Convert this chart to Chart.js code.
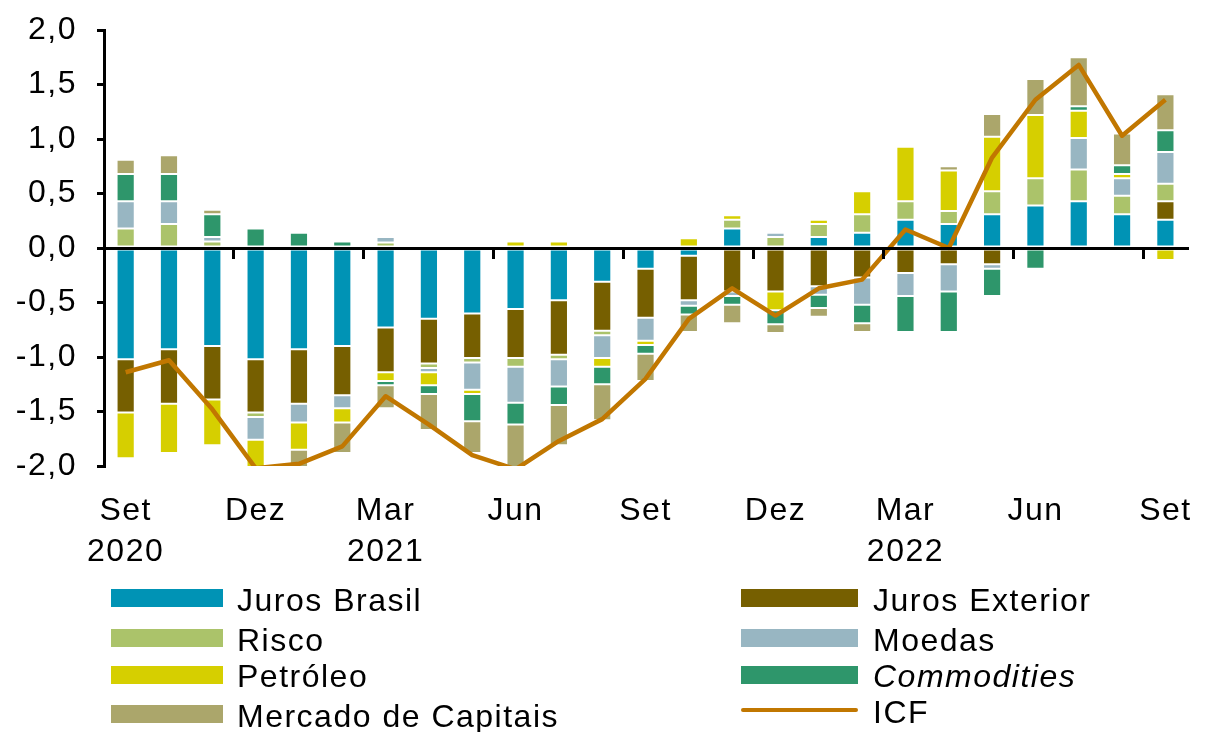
<!DOCTYPE html>
<html>
<head>
<meta charset="utf-8">
<script src="https://cdn.jsdelivr.net/npm/chart.js@4.4.1/dist/chart.umd.min.js"></script>
<style>
    body { margin: 0; background: #ffffff; }
    #wrap { position: relative; width: 1217px; height: 732px; }
    #legend {
        position: absolute; left: 0; top: 0; width: 100%; height: 100%;
        font: 32px "Liberation Sans", Arial, sans-serif;
        letter-spacing: 1.5px; color: #000;
    }
    .key { position: absolute; }
    .label { position: absolute; line-height: 40px; white-space: nowrap; }
</style>
</head>
<body>
<div id="wrap">
    <canvas id="icfChart"></canvas>
    <div id="legend"></div>
</div>
<script>
// months Set/2020 .. Set/2022
const months = [
    "Set 2020", "Out 2020", "Nov 2020", "Dez 2020", "Jan 2021", "Fev 2021", "Mar 2021",
    "Abr 2021", "Mai 2021", "Jun 2021", "Jul 2021", "Ago 2021", "Set 2021", "Out 2021",
    "Nov 2021", "Dez 2021", "Jan 2022", "Fev 2022", "Mar 2022", "Abr 2022", "Mai 2022",
    "Jun 2022", "Jul 2022", "Ago 2022", "Set 2022"
];
const tickLabels = [
    ["Set", "2020"], "", "", "Dez", "", "", ["Mar", "2021"], "", "", "Jun", "", "", "Set",
    "", "", "Dez", "", "", ["Mar", "2022"], "", "", "Jun", "", "", "Set"
];

const jurosBrasil = [-1.02, -0.93, -0.90, -1.02, -0.93, -0.90, -0.73, -0.65, -0.60, -0.56, -0.48, -0.31, -0.19,
    -0.07, 0.18, 0, 0.10, 0.14, 0.26, 0.22, 0.31, 0.39, 0.43, 0.31, 0.26];
const jurosExterior = [-0.49, -0.50, -0.49, -0.49, -0.50, -0.45, -0.41, -0.41, -0.41, -0.45, -0.50, -0.45, -0.45,
    -0.41, -0.40, -0.40, -0.35, -0.27, -0.23, -0.15, -0.15, 0, 0, 0, 0.17];
const risco = [0.18, 0.22, 0.06, -0.04, 0, 0, 0.05, -0.04, -0.04, -0.08, -0.04, -0.04, 0,
    0, 0.08, 0.10, 0.12, 0.17, 0.17, 0.12, 0.21, 0.25, 0.29, 0.17, 0.16];
const moedas = [0.25, 0.21, 0.04, -0.21, -0.17, -0.12, 0.05, -0.04, -0.25, -0.33, -0.25, -0.21, -0.21,
    -0.05, -0.04, 0.04, -0.08, -0.25, -0.21, -0.25, -0.04, 0, 0.29, 0.16, 0.29];
const petroleo = [-0.42, -0.45, -0.42, -0.29, -0.25, -0.13, -0.08, -0.12, -0.04, 0.06, 0.06, -0.08, -0.04,
    0.09, 0.04, -0.17, 0.04, 0.21, 0.50, 0.37, 0.50, 0.58, 0.25, 0.04, -0.11];
const commodities = [0.25, 0.25, 0.21, 0.18, 0.14, 0.06, -0.04, -0.08, -0.25, -0.20, -0.17, -0.16, -0.08,
    -0.08, -0.08, -0.13, -0.12, -0.17, -0.33, -0.37, -0.25, -0.19, 0.04, 0.08, 0.20];
const mercado = [0.13, 0.17, 0.04, 0, -0.21, -0.28, -0.21, -0.33, -0.29, -0.41, -0.37, -0.33, -0.25,
    -0.16, -0.17, -0.08, -0.08, -0.08, 0, 0.04, 0.21, 0.33, 0.45, 0.29, 0.33];
const icf = [-1.14, -1.03, -1.48, -2.02, -1.98, -1.82, -1.36, -1.62, -1.90, -2.03, -1.77, -1.57, -1.20,
    -0.65, -0.37, -0.62, -0.37, -0.29, 0.17, 0.0, 0.83, 1.36, 1.68, 1.03, 1.36];

const FONT = "'Liberation Sans', Arial, sans-serif";

function bar(label, data, color) {
    return {
        label: label,
        data: data,
        backgroundColor: color,
        borderColor: "rgba(255,255,255,0.5)",
        borderWidth: 1,
        borderSkipped: false,
        categoryPercentage: 1,
        barPercentage: 0.42,
        order: 1
    };
}

const datasets = [
    bar("Juros Brasil", jurosBrasil, "#0093B5"),
    bar("Juros Exterior", jurosExterior, "#765F00"),
    bar("Risco", risco, "#ABC36A"),
    bar("Moedas", moedas, "#98B6C2"),
    bar("Petróleo", petroleo, "#D6CF00"),
    bar("Commodities", commodities, "#2E966B"),
    bar("Mercado de Capitais", mercado, "#ABA66B"),
    {
        type: "line",
        label: "ICF",
        data: icf,
        borderColor: "#C17700",
        backgroundColor: "#C17700",
        borderWidth: 4.5,
        borderJoinStyle: "round",
        pointRadius: 0,
        tension: 0,
        order: 0
    }
];

/* canvas text gets the same loose spacing as the original */
const spacing = {
    id: "spacing",
    beforeUpdate(chart) { chart.ctx.letterSpacing = "1.5px"; },
    beforeDraw(chart) { chart.ctx.letterSpacing = "1.5px"; }
};

const ctx = document.getElementById("icfChart").getContext("2d");

const chart = new Chart(ctx, {
    type: "bar",
    data: { labels: months, datasets: datasets },
    plugins: [spacing],
    options: {
        responsive: true,
        maintainAspectRatio: false,
        animation: false,
        layout: { padding: { top: 30, right: 17, bottom: 156, left: 0 } },
        plugins: {
            legend: { display: false },
            tooltip: { enabled: false }
        },
        scales: {
            x: {
                stacked: true,
                grid: { display: false, drawTicks: false },
                border: { display: false },
                ticks: {
                    autoSkip: false,
                    maxRotation: 0,
                    padding: 25,
                    color: "#000",
                    font: { family: FONT, size: 32, lineHeight: 1.28 },
                    callback: (v, i) => tickLabels[i]
                },
                afterFit: s => { s.height = 110; }
            },
            x2: {
                type: "category",
                position: { y: 0 },
                offset: true,
                ticks: { display: false },
                grid: {
                    offset: true,
                    drawOnChartArea: false,
                    drawTicks: true,
                    tickLength: 9,
                    lineWidth: 3,
                    z: 1,
                    color: c => (c.index % 3 === 0 ? "#000" : "rgba(0,0,0,0)")
                },
                border: { display: true, color: "#000", width: 3, z: 1 }
            },
            y: {
                stacked: true,
                min: -2,
                max: 2,
                grid: {
                    drawOnChartArea: false,
                    drawTicks: true,
                    tickLength: 7,
                    lineWidth: 3,
                    color: "#000"
                },
                border: { display: true, color: "#000", width: 3 },
                ticks: {
                    stepSize: 0.5,
                    padding: 20,
                    color: "#000",
                    font: { family: FONT, size: 32 },
                    callback: v => v.toFixed(1).replace(".", ",")
                },
                afterFit: s => {
                    s.width = 104;
                    s.paddingTop = 18;
                    s.paddingBottom = 0;
                }
            }
        }
    }
});

/* legend: two columns, built from the datasets */
const legend = document.getElementById("legend");
const cols = [
    { box: 111, width: 112, text: 237, rows: [598, 638, 674.5, 714] },
    { box: 741, width: 117, text: 873, rows: [598, 638, 674.5, 710] }
];
chart.data.datasets.forEach((ds, i) => {
    const col = cols[i % 2];
    const y = col.rows[Math.floor(i / 2)];
    const key = document.createElement("div");
    key.className = "key";
    const h = ds.type === "line" ? 4 : 18;
    key.style.left = col.box + "px";
    key.style.width = col.width + "px";
    key.style.top = (y - h / 2) + "px";
    key.style.height = h + "px";
    key.style.background = ds.type === "line" ? ds.borderColor : ds.backgroundColor;
    if (ds.type === "line") key.style.borderRadius = "2px";
    const label = document.createElement("div");
    label.className = "label";
    label.style.left = col.text + "px";
    label.style.top = (y + 1.5 - 20) + "px";
    label.textContent = ds.label;
    if (ds.label === "Commodities") label.style.fontStyle = "italic";
    legend.appendChild(key);
    legend.appendChild(label);
});
</script>
</body>
</html>
